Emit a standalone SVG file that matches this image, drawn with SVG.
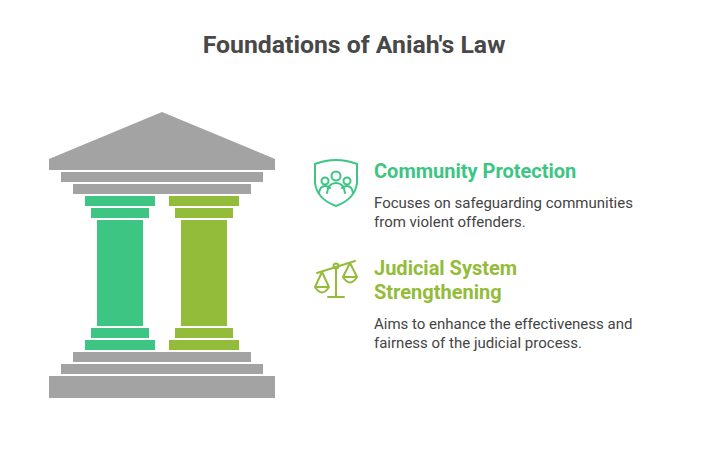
<svg xmlns="http://www.w3.org/2000/svg" width="708" height="450" viewBox="0 0 708 450">
<style>
.g{fill:#a3a3a3}.c1{fill:#3dc583}.c2{fill:#93bc3a}
.t{font-family:Roboto,"Liberation Sans",sans-serif}
.h{font-size:20px;font-weight:bold}
.b{font-size:15px;fill:#444}
.i1{fill:none;stroke:#3dc583;stroke-width:2;stroke-linecap:round;stroke-linejoin:round}
.i2{fill:none;stroke:#93bc3a;stroke-width:2;stroke-linecap:round;stroke-linejoin:round}
</style>
<rect width="708" height="450" fill="#fff"/>
<text class="t" x="354" y="53" text-anchor="middle" font-size="24.8" font-weight="bold" fill="#484848">Foundations of Aniah's Law</text>
<g id="temple">
<polygon class="g" points="162,112 275,159 275,170 49,170 49,159"/>
<rect class="g" x="61" y="172" width="202" height="10"/>
<rect class="g" x="73" y="184" width="178" height="10"/>
<rect class="g" x="73" y="352" width="178" height="10"/>
<rect class="g" x="61" y="364" width="202" height="10"/>
<rect class="g" x="49" y="376" width="226" height="22"/>
</g>
<g id="pillar-community" class="c1">
<rect x="85" y="196" width="70" height="10"/><rect x="91" y="208" width="58" height="10"/>
<rect x="97" y="220" width="46" height="106"/>
<rect x="91" y="328" width="58" height="10"/><rect x="85" y="340" width="70" height="10"/>
</g>
<g id="pillar-judicial" class="c2">
<rect x="169" y="196" width="70" height="10"/><rect x="175" y="208" width="58" height="10"/>
<rect x="181" y="220" width="46" height="106"/>
<rect x="175" y="328" width="58" height="10"/><rect x="169" y="340" width="70" height="10"/>
</g>
<g id="community-protection">
<g class="i1">
<path d="M315,164 Q336,156 357,164 L357,183 Q355,199 336,206 Q317,199 315,183 Z"/>
<circle cx="336" cy="176" r="4.5"/><circle cx="325" cy="181" r="3.5"/><circle cx="347" cy="181" r="3.5"/>
<path d="M327,193 Q328,183 336,183 Q344,183 345,193"/>
<path d="M319,193 Q320,186 325,186 Q328,186 330,188"/>
<path d="M353,193 Q352,186 347,186 Q344,186 342,188"/>
</g>
<text class="t h" x="374" y="178" fill="#3dc583">Community Protection</text>
<text class="t b" x="374" y="208">Focuses on safeguarding communities</text>
<text class="t b" x="374" y="227">from violent offenders.</text>
</g>
<g id="judicial-system">
<g class="i2">
<path d="M317,273 L355,261"/><circle cx="336" cy="266" r="2.5"/>
<path d="M336,269 L336,297 M328,297 L344,297"/>
<path d="M322,272 L315,287 M322,272 L329,287 M315,287 Q322,298 329,287 Z"/>
<path d="M350,263 L343,277 M350,263 L357,277 M343,277 Q350,288 357,277 Z"/>
</g>
<text class="t h" x="374" y="275" fill="#93bc3a">Judicial System</text>
<text class="t h" x="374" y="299" fill="#93bc3a">Strengthening</text>
<text class="t b" x="374" y="329">Aims to enhance the effectiveness and</text>
<text class="t b" x="374" y="348">fairness of the judicial process.</text>
</g>
</svg>
